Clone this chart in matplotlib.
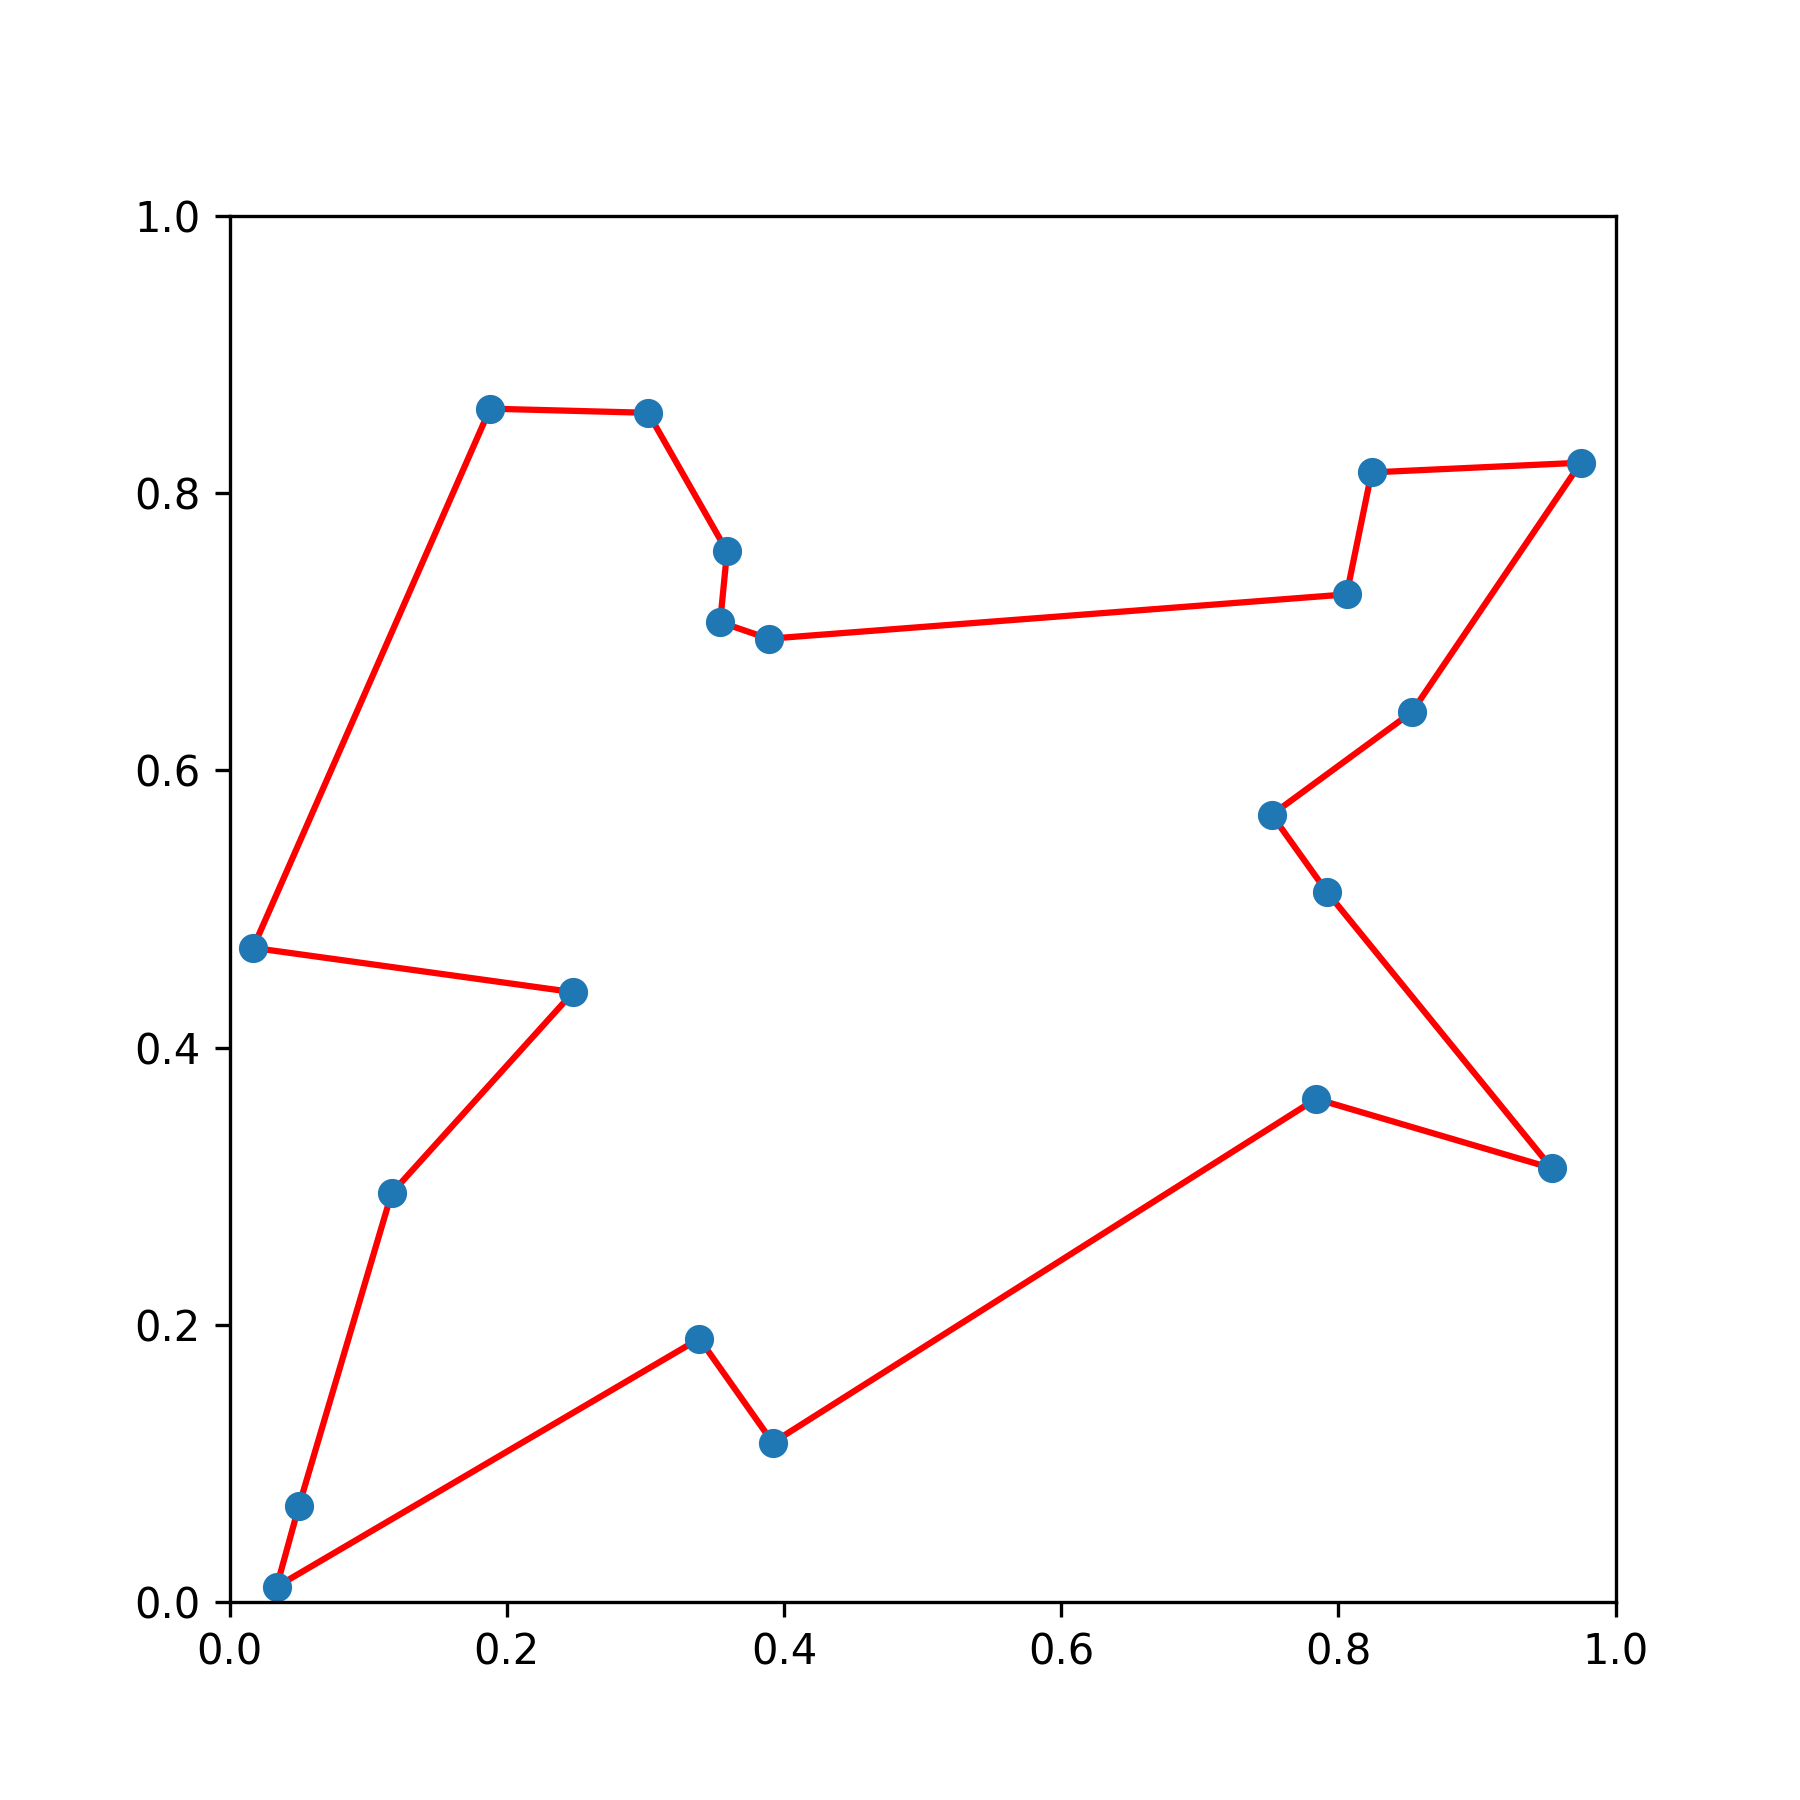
import matplotlib
matplotlib.use('Agg')
import matplotlib.pyplot as plt

# tour through the cities, in visiting order (closed loop)
xs = [0.034, 0.050, 0.117, 0.248, 0.017, 0.188, 0.302, 0.359, 0.354, 0.389,
      0.806, 0.824, 0.975, 0.853, 0.752, 0.792, 0.954, 0.784, 0.392, 0.339]
ys = [0.011, 0.069, 0.295, 0.440, 0.472, 0.861, 0.858, 0.758, 0.707, 0.695,
      0.727, 0.815, 0.822, 0.642, 0.568, 0.512, 0.313, 0.363, 0.115, 0.190]


def plot_tour(x, y):
    fig, ax = plt.subplots(figsize=(6, 6), dpi=300)
    # close the loop
    ax.plot(x + x[:1], y + y[:1], 'r-')
    ax.plot(x, y, 'o', color='C0')
    ax.set_xlim(0, 1)
    ax.set_ylim(0, 1)
    ax.set_aspect('equal')
    fig.savefig('out.png')


if __name__ == '__main__':
    plot_tour(xs, ys)
